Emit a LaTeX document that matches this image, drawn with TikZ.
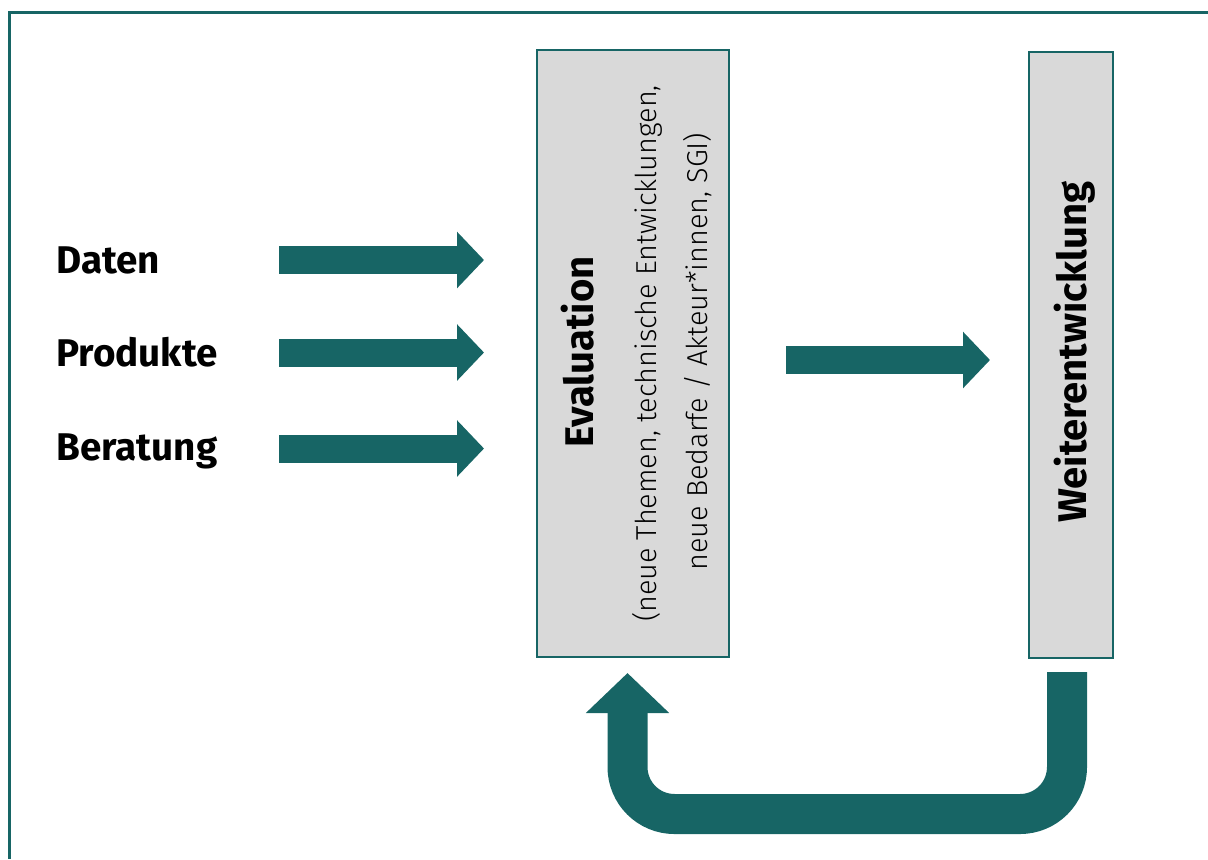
\documentclass[tikz,border=0pt]{standalone}
\usepackage{fontspec}
\setmainfont{Fira Sans}
\newfontfamily\lightfont{Fira Sans Light}
\usetikzlibrary{positioning, arrows.meta}

\definecolor{petrol}{RGB}{23,101,101}
\definecolor{boxgray}{RGB}{217,217,217}

\begin{document}
\begin{tikzpicture}[x=0.5pt, y=-0.5pt]
        \tikzstyle{box} = [rectangle, draw=petrol, line width=0.7pt, fill=boxgray, inner sep=0pt]
        \tikzstyle{label} = [font=\bfseries\fontsize{20}{24}\selectfont, inner sep=0pt]
        \tikzstyle{inlabel} = [font=\bfseries\fontsize{19.3}{24}\selectfont, inner sep=0pt, anchor=base west]
        \tikzstyle{sublabel} = [font=\lightfont\fontsize{14.4}{18}\selectfont, inner sep=0pt, rotate=90, anchor=base]
        \tikzstyle{arrow} = [line width=14pt, draw=petrol, -{Triangle[length=13.5pt, width=27.5pt]}]
        \tikzstyle{backarrow} = [line width=20pt, draw=petrol, rounded corners=23.5pt, -{Triangle[length=20pt, width=40.5pt]}]

        \useasboundingbox (0,0) rectangle (1208,859);
        \draw [petrol, line width=1.5pt] (1208,12.5) -- (9.5,12.5) -- (9.5,859);

        % boxes
        \node (eval) [box, minimum width=96pt, minimum height=303.5pt] at (633,353.5) {};
        \node (weiter) [box, minimum width=42pt, minimum height=303pt] at (1071,355) {};

        \node (evaltitle) [label, rotate=90, anchor=base] at (593,352) {Evaluation};
        \node (evalsub1) [sublabel] at (656,353.5) {(neue Themen, technische Entwicklungen,};
        \node (evalsub2) [sublabel] at (707,351.5) {neue Bedarfe / Akteur*innen, SGI)};
        \node (weitertitle) [label, rotate=90, anchor=base] at (1086,352) {Weiterentwicklung};

        % inputs
        \node (daten) [inlabel] at (56,273) {Daten};
        \node (produkte) [inlabel] at (56,366) {Produkte};
        \node (beratung) [inlabel] at (56,460) {Beratung};

        \coordinate (daten-from) at (279,260);
        \coordinate (daten-to) at (484,260);
        \coordinate (produkte-from) at (279,352.5);
        \coordinate (produkte-to) at (484,352.5);
        \coordinate (beratung-from) at (279,448.5);
        \coordinate (beratung-to) at (484,448.5);
        \coordinate (eval-from) at (786,360);
        \coordinate (weiter-to) at (990,360);
        \coordinate (back-from) at (1067,672);
        \coordinate (back-to) at (627.5,673);

        \draw [arrow] (daten-from) -- (daten-to);
        \draw [arrow] (produkte-from) -- (produkte-to);
        \draw [arrow] (beratung-from) -- (beratung-to);
        \draw [arrow] (eval-from) -- (weiter-to);
        \draw [backarrow] (back-from) -- (back-from |- 0,814) -- (back-to |- 0,814) -- (back-to);
    \end{tikzpicture}
\end{document}
